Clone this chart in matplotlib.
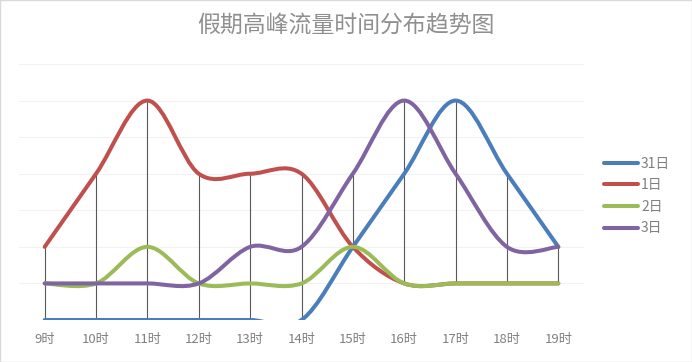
import numpy as np
import matplotlib.pyplot as plt
from matplotlib.path import Path
from matplotlib.patches import PathPatch, Rectangle
from matplotlib.lines import Line2D

plt.rcParams['font.family'] = ['Noto Sans CJK SC', 'DejaVu Sans']

hours = ['9时', '10时', '11时', '12时', '13时', '14时', '15时', '16时', '17时', '18时', '19时']
day31 = [0, 0, 0, 0, 0, 0, 2, 4, 6, 4, 2]
day1 = [2, 4, 6, 4, 4, 4, 2, 1, 1, 1, 1]
day2 = [1, 1, 2, 1, 1, 1, 2, 1, 1, 1, 1]
day3 = [1, 1, 1, 1, 2, 2, 4, 6, 4, 2, 2]
names = ['31日', '1日', '2日', '3日']
colors = ['#4A7EBB', '#C0504D', '#9BBB59', '#8064A2']


def smooth_path(x, y):
    # Catmull-Rom style bezier, like Excel's smoothed line
    pts = np.column_stack([x, y]).astype(float)
    ext = np.vstack([pts[0], pts, pts[-1]])
    verts = [pts[0]]
    codes = [Path.MOVETO]
    for i in range(1, len(ext) - 2):
        p0, p1, p2, p3 = ext[i - 1], ext[i], ext[i + 1], ext[i + 2]
        verts += [p1 + (p2 - p0) / 6, p2 - (p3 - p1) / 6, p2]
        codes += [Path.CURVE4] * 3
    return Path(verts, codes)


fig = plt.figure(figsize=(6.92, 3.62), dpi=100)
ax = fig.add_axes([19 / 692, 1 - 320 / 362, 565 / 692, 256 / 362])
x = np.arange(len(hours))

series = [day31, day1, day2, day3]
arr = np.array(series)
# high-low lines
ax.vlines(x, arr.min(axis=0), arr.max(axis=0), color='#595959', lw=0.8, zorder=1)

for ys, c in zip(series, colors):
    ax.add_patch(PathPatch(smooth_path(x, ys), fill=False, edgecolor=c, lw=2.9,
                           capstyle='round', joinstyle='round', zorder=3))

ax.set_xlim(-0.5, len(hours) - 0.5)
ax.set_ylim(0, 7)
ax.set_yticks(range(0, 8))
ax.yaxis.grid(True, color='#F2F2F2', lw=0.8)
ax.set_axisbelow(True)
ax.tick_params(left=False, labelleft=False, bottom=False)
ax.set_xticks(x)
ax.set_xticklabels(hours, fontsize=9.5, color='#808080')
ax.tick_params(axis='x', pad=6)
for s in ax.spines.values():
    s.set_visible(False)

fig.text(0.5, 1 - 25 / 362, '假期高峰流量时间分布趋势图', ha='center', va='center',
         fontsize=16.5, color='#8F8F8F')

handles = [Line2D([], [], color=c, lw=2.9, solid_capstyle='round') for c in colors]
fig.legend(handles, names, loc='center left', bbox_to_anchor=(598 / 692, 1 - 196 / 362),
           frameon=False, fontsize=10, labelcolor='#808080', handlelength=2.5,
           handletextpad=0.2, labelspacing=0.55, borderaxespad=0)

fig.patches.append(Rectangle((0, 0), 1, 1, transform=fig.transFigure, fill=False,
                             edgecolor='#D9D9D9', lw=1))

fig.savefig('out.png', dpi=100)
